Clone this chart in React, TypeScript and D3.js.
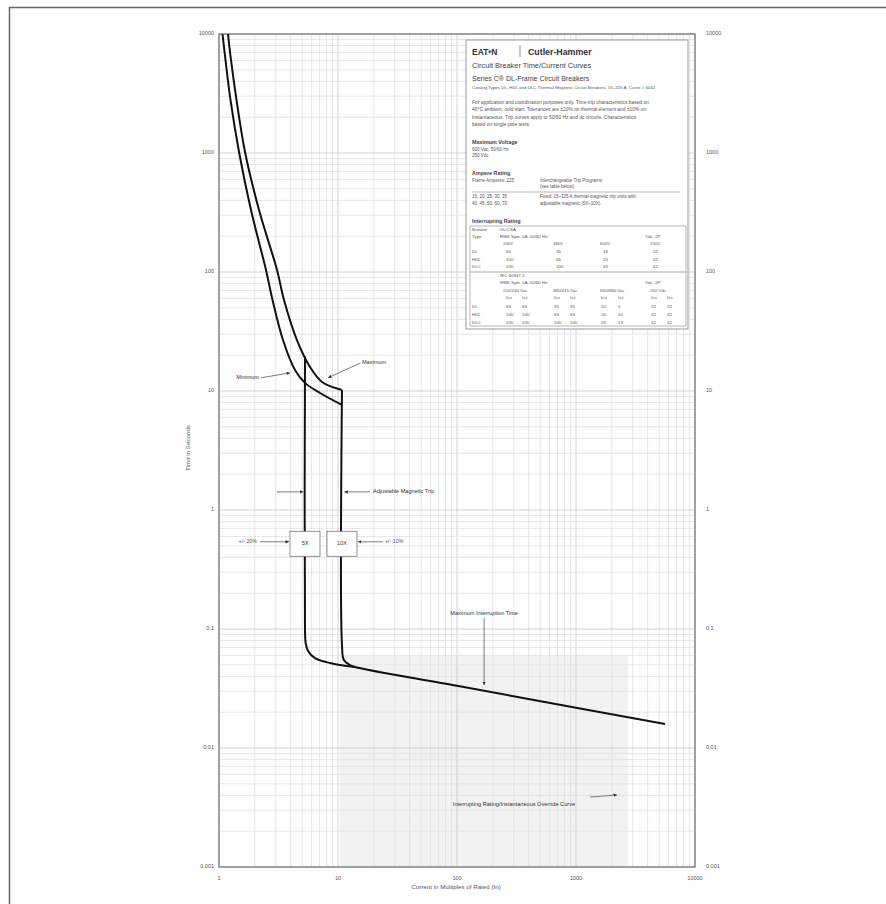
import React from 'react';
import * as d3 from 'd3';

// ---- axis ticks ----
const xTicks = [1, 10, 100, 1000, 10000];
const xTickLabels = ['1', '10', '100', '1000', '10000'];
const yTicks = [10000, 1000, 100, 10, 1, 0.1, 0.01, 0.001];
const yTickLabels = ['10000', '1000', '100', '10', '1', '0.1', '0.01', '0.001'];

// ---- curves (current in multiples of In, time in seconds) ----
const minCurveI = [1.07, 1.134, 1.249, 1.473, 1.857, 2.483, 2.817, 3.45, 4.35, 5.28, 7.06, 10.8];
const minCurveT = [10000, 6050, 2790, 1020, 332, 104, 58.2, 26.8, 15.0, 11.7, 9.62, 7.63];

const maxCurveI = [1.19, 1.261, 1.403, 1.654, 2.169, 3.073, 3.517, 4.52, 5.82, 7.34, 10.8];
const maxCurveT = [10000, 6050, 2790, 1020, 332, 104, 58.2, 26.8, 15.9, 11.9, 10.2];

const maxTripI = [10.8, 10.8, 11.2, 12.6, 13.9, 100, 1000, 5600];
const maxTripT = [10.2, 0.0734, 0.0548, 0.0498, 0.0479, 0.0333, 0.0218, 0.0159];

const minTripI = [5.28, 5.28, 5.35, 5.6, 6.41, 8.57, 13.9];
const minTripT = [19.5, 0.098, 0.0762, 0.0653, 0.057, 0.0518, 0.0479];

// magnetic trip setting boxes
const tripLabels = ['5X', '10X'];
const tripI = [5.28, 10.8];
const tripT = 0.52;

// shaded zone (scan tone) below interruption curve
const shadeI = [10.4, 2735];
const shadeT = [0.001, 0.06];

const FONT = "'Liberation Sans', Arial, sans-serif";

export default function App() {
  const W = 886, H = 904;
  const x = d3.scaleLog().domain([1, 10000]).range([219, 695]);
  const y = d3.scaleLog().domain([0.001, 10000]).range([867, 34]);
  const line = d3
    .line<[number, number]>()
    .x((d) => x(d[0]))
    .y((d) => y(d[1]))
    .curve(d3.curveCatmullRom.alpha(0.5));
  const zip = (a: number[], b: number[]) => a.map((v, i) => [v, b[i]] as [number, number]);

  // grid values
  const xGrid: { v: number; major: boolean }[] = [];
  for (let d = 0; d < 4; d++) for (let k = 1; k < 10; k++) xGrid.push({ v: k * Math.pow(10, d), major: k === 1 });
  xGrid.push({ v: 10000, major: true });
  const yGrid: { v: number; major: boolean }[] = [];
  for (let d = -3; d < 4; d++) for (let k = 1; k < 10; k++) yGrid.push({ v: k * Math.pow(10, d), major: k === 1 });
  yGrid.push({ v: 10000, major: true });

  const [x0, x1] = x.range();
  const [y0, y1] = [y(10000), y(0.001)];

  const tc = '#555';
  const boxW = 30, boxH = 25;
  const bx0 = x(tripI[0]) - boxW / 2;
  const bx1 = x(tripI[1]) + boxW / 2;
  const by = y(tripT);

  const t = (props: any, s: string) => (
    <text fontFamily={FONT} fill={tc} {...props}>{s}</text>
  );

  const colX1 = [503, 553, 600, 650];
  const rows1 = [
    ['DL', '65', '35', '18', '22'],
    ['HDL', '100', '65', '25', '42'],
    ['DLC', '200', '100', '35', '42'],
  ];
  const colX2 = [506, 522, 554, 570, 601, 618, 651, 667];
  const rows2 = [
    ['DL', '65', '65', '35', '35', '10', '5', '22', '22'],
    ['HDL', '100', '100', '65', '65', '20', '10', '42', '42'],
    ['DLC', '200', '200', '100', '100', '25', '13', '42', '42'],
  ];

  return (
    <svg width={W} height={H} style={{ position: 'absolute', left: 0, top: 0, background: '#fff' }}>
      <defs>
        <marker id="ah" viewBox="0 0 6 6" refX="6" refY="3" markerWidth="5" markerHeight="5" orient="auto">
          <path d="M0,0L6,3L0,6z" fill="#333" />
        </marker>
      </defs>
      <rect x={0} y={0} width={W} height={H} fill="#fff" />
      {/* outer page border */}
      <line x1={9} x2={W} y1={7.5} y2={7.5} stroke="#666" strokeWidth={1.5} />
      <line x1={9.5} x2={9.5} y1={7} y2={H} stroke="#666" strokeWidth={1.5} />

      {/* shaded tone */}
      <rect
        x={x(shadeI[0])}
        y={y(shadeT[1])}
        width={x(shadeI[1]) - x(shadeI[0])}
        height={y(shadeT[0]) - y(shadeT[1])}
        fill="#f2f2f2"
      />

      {/* grid */}
      {xGrid.map((g, i) => (
        <line key={'xg' + i} x1={x(g.v)} x2={x(g.v)} y1={y0} y2={y1} stroke={g.major ? '#c8c8c8' : '#e0e0e0'} strokeWidth={0.8} />
      ))}
      {yGrid.map((g, i) => (
        <line key={'yg' + i} x1={x0} x2={x1} y1={y(g.v)} y2={y(g.v)} stroke={g.major ? '#c8c8c8' : '#e0e0e0'} strokeWidth={0.8} />
      ))}
      {/* plot frame */}
      <rect x={x0} y={y0} width={x1 - x0} height={y1 - y0} fill="none" stroke="#7a7a7a" strokeWidth={1.3} />

      {/* tick labels */}
      {yTicks.map((v, i) => (
        <g key={'yt' + i}>
          {t({ x: x0 - 5, y: y(v), textAnchor: 'end', dominantBaseline: 'middle', fontSize: 5.5 }, yTickLabels[i])}
          {t({ x: x1 + 11, y: y(v), textAnchor: 'start', dominantBaseline: 'middle', fontSize: 5.5 }, yTickLabels[i])}
        </g>
      ))}
      {xTicks.map((v, i) => (
        <g key={'xt' + i}>{t({ x: x(v), y: 880, textAnchor: 'middle', fontSize: 5.5 }, xTickLabels[i])}</g>
      ))}
      {t({ x: 456, y: 889, textAnchor: 'middle', fontSize: 6.2 }, 'Current in Multiples of Rated (In)')}
      {t({ x: 0, y: 0, textAnchor: 'middle', fontSize: 6.2, transform: 'translate(190,448) rotate(-90)' }, 'Time in Seconds')}

      {/* info box */}
      <rect x={466} y={40} width={222} height={289} fill="#fff" stroke="#999" strokeWidth={1} />
      {t({ x: 472, y: 55, fontSize: 8.5, fontWeight: 'bold', fill: '#333' }, 'EAT•N')}
      <line x1={520} x2={520} y1={45} y2={57} stroke="#777" strokeWidth={0.8} />
      {t({ x: 528, y: 55, fontSize: 8.8, fontWeight: 'bold', fill: '#333' }, 'Cutler-Hammer')}
      {t({ x: 472, y: 68, fontSize: 7.4, fill: '#444' }, 'Circuit Breaker Time/Current Curves')}
      {t({ x: 472, y: 81, fontSize: 7, fill: '#444' }, 'Series C® DL-Frame Circuit Breakers')}
      {t({ x: 472, y: 89, fontSize: 4.4 }, 'Catalog Types DL, HDL and DLC Thermal-Magnetic Circuit Breakers, 15–225 A, Curve # 0042')}
      {t({ x: 472, y: 104, fontSize: 4.9 }, 'For application and coordination purposes only. Time-trip characteristics based on')}
      {t({ x: 472, y: 111, fontSize: 4.9 }, '40°C ambient, cold start. Tolerances are ±20% on thermal element and ±10% on')}
      {t({ x: 472, y: 119, fontSize: 4.9 }, 'instantaneous. Trip curves apply to 50/60 Hz and dc circuits. Characteristics')}
      {t({ x: 472, y: 126, fontSize: 4.9 }, 'based on single-pole tests.')}
      {t({ x: 472, y: 144, fontSize: 5.4, fontWeight: 'bold', fill: '#444' }, 'Maximum Voltage')}
      {t({ x: 472, y: 151, fontSize: 4.5 }, '600 Vac, 50/60 Hz')}
      {t({ x: 472, y: 157, fontSize: 4.5 }, '250 Vdc')}
      {t({ x: 472, y: 175, fontSize: 5.4, fontWeight: 'bold', fill: '#444' }, 'Ampere Rating')}
      {t({ x: 472, y: 182, fontSize: 4.5 }, 'Frame Amperes: 225')}
      {t({ x: 540, y: 182, fontSize: 4.5 }, 'Interchangeable Trip Programs:')}
      {t({ x: 540, y: 188, fontSize: 4.5 }, '(see table below)')}
      <line x1={472} x2={680} y1={192} y2={192} stroke="#888" strokeWidth={0.6} />
      {t({ x: 472, y: 198, fontSize: 4.5 }, '15, 20, 25, 30, 35')}
      {t({ x: 540, y: 198, fontSize: 4.5 }, 'Fixed: 15–125 A thermal-magnetic trip units with')}
      {t({ x: 472, y: 205, fontSize: 4.5 }, '40, 45, 50, 60, 70')}
      {t({ x: 540, y: 205, fontSize: 4.5 }, 'adjustable magnetic (5X–10X).')}
      {t({ x: 472, y: 223, fontSize: 5.4, fontWeight: 'bold', fill: '#444' }, 'Interrupting Rating')}
      <rect x={470} y={226} width={216} height={100} fill="none" stroke="#999" strokeWidth={0.7} />
      {t({ x: 472, y: 231, fontSize: 4.4 }, 'Breaker')}
      {t({ x: 500, y: 231, fontSize: 4.4 }, 'UL/CSA')}
      {t({ x: 472, y: 238, fontSize: 4.4 }, 'Type')}
      {t({ x: 500, y: 238, fontSize: 4.4 }, 'RMS Sym. kA, 50/60 Hz')}
      {t({ x: 645, y: 238, fontSize: 4.4 }, 'Vdc, 2P')}
      {['240V', '480V', '600V', '250V'].map((s, i) => (
        <g key={'h1' + i}>{t({ x: colX1[i], y: 245, fontSize: 4.4 }, s)}</g>
      ))}
      {rows1.map((r, ri) => (
        <g key={'r1' + ri}>
          {t({ x: 472, y: 253 + ri * 7.5, fontSize: 4.4 }, r[0])}
          {r.slice(1).map((s, ci) => (
            <g key={ci}>{t({ x: colX1[ci] + 3, y: 253 + ri * 7.5, fontSize: 4.4 }, s)}</g>
          ))}
        </g>
      ))}
      <line x1={470} x2={686} y1={272} y2={272} stroke="#888" strokeWidth={0.7} />
      {t({ x: 500, y: 277, fontSize: 4.4 }, 'IEC 60947-2')}
      {t({ x: 500, y: 284, fontSize: 4.4 }, 'RMS Sym. kA, 50/60 Hz')}
      {t({ x: 645, y: 284, fontSize: 4.4 }, 'Vdc, 2P')}
      {['220/240 Vac', '380/415 Vac', '660/690 Vac', '250 Vdc'].map((s, i) => (
        <g key={'h2' + i}>{t({ x: colX1[i], y: 292, fontSize: 4.4 }, s)}</g>
      ))}
      {colX2.map((cx, i) => (
        <g key={'ic' + i}>{t({ x: cx, y: 299, fontSize: 4.4 }, i % 2 === 0 ? 'Icu' : 'Ics')}</g>
      ))}
      {rows2.map((r, ri) => (
        <g key={'r2' + ri}>
          {t({ x: 472, y: 308 + ri * 7.8, fontSize: 4.4 }, r[0])}
          {r.slice(1).map((s, ci) => (
            <g key={ci}>{t({ x: colX2[ci], y: 308 + ri * 7.8, fontSize: 4.4 }, s)}</g>
          ))}
        </g>
      ))}

      {/* curves */}
      <g fill="none" stroke="#111" strokeWidth={2} strokeLinejoin="round">
        <path d={line(zip(minCurveI, minCurveT)) || ''} />
        <path d={line(zip(maxCurveI, maxCurveT)) || ''} />
        <path d={line(zip(maxTripI, maxTripT)) || ''} />
        <path d={line(zip(minTripI, minTripT)) || ''} />
      </g>

      {/* trip setting boxes */}
      {tripI.map((v, i) => (
        <g key={'tb' + i}>
          <rect x={x(v) - boxW / 2} y={by - boxH / 2} width={boxW} height={boxH} fill="#fff" stroke="#777" strokeWidth={0.8} />
          {t({ x: x(v), y: by, textAnchor: 'middle', dominantBaseline: 'middle', fontSize: 5.5, fill: '#333' }, tripLabels[i])}
        </g>
      ))}
      {/* tolerance arrows */}
      <line x1={bx0 - 30} x2={bx0 - 1} y1={by - 2} y2={by - 2} stroke="#444" strokeWidth={0.7} markerEnd="url(#ah)" />
      {t({ x: bx0 - 33, y: by - 2, textAnchor: 'end', dominantBaseline: 'middle', fontSize: 5.3 }, '+/- 20%')}
      <line x1={bx1 + 26} x2={bx1 + 1} y1={by - 2} y2={by - 2} stroke="#444" strokeWidth={0.7} markerEnd="url(#ah)" />
      {t({ x: bx1 + 28, y: by - 2, textAnchor: 'start', dominantBaseline: 'middle', fontSize: 5.3 }, '+/- 10%')}

      {/* annotations */}
      {t({ x: x(2.17), y: y(12.9), textAnchor: 'end', dominantBaseline: 'middle', fontSize: 5.6, fill: '#333' }, 'Minimum')}
      <line x1={x(2.25)} y1={y(12.9)} x2={x(3.95)} y2={y(14.2)} stroke="#444" strokeWidth={0.7} markerEnd="url(#ah)" />
      {t({ x: x(15.9), y: y(17.2), textAnchor: 'start', dominantBaseline: 'middle', fontSize: 5.6, fill: '#333' }, 'Maximum')}
      <line x1={x(15.4)} y1={y(17.2)} x2={x(8.24)} y2={y(12.9)} stroke="#444" strokeWidth={0.7} markerEnd="url(#ah)" />

      {t({ x: x(19.7), y: y(1.42), textAnchor: 'start', dominantBaseline: 'middle', fontSize: 5.6, fill: '#333' }, 'Adjustable Magnetic Trip')}
      <line x1={x(18.6)} y1={y(1.42)} x2={x(11.3)} y2={y(1.42)} stroke="#444" strokeWidth={0.7} markerEnd="url(#ah)" />
      <line x1={x(3.07)} y1={y(1.42)} x2={x(5.1)} y2={y(1.42)} stroke="#444" strokeWidth={0.7} markerEnd="url(#ah)" />

      {t({ x: x(169), y: y(0.134), textAnchor: 'middle', dominantBaseline: 'middle', fontSize: 5.6, fill: '#333' }, 'Maximum Interruption Time')}
      <line x1={x(169)} y1={y(0.123)} x2={x(169)} y2={y(0.0338)} stroke="#444" strokeWidth={0.7} markerEnd="url(#ah)" />

      {t({ x: x(301), y: y(0.00332), textAnchor: 'middle', dominantBaseline: 'middle', fontSize: 5.6, fill: '#333' }, 'Interrupting Rating/Instantaneous Override Curve')}
      <line x1={x(1312)} y1={y(0.00387)} x2={x(2212)} y2={y(0.00403)} stroke="#444" strokeWidth={0.7} markerEnd="url(#ah)" />
    </svg>
  );
}
